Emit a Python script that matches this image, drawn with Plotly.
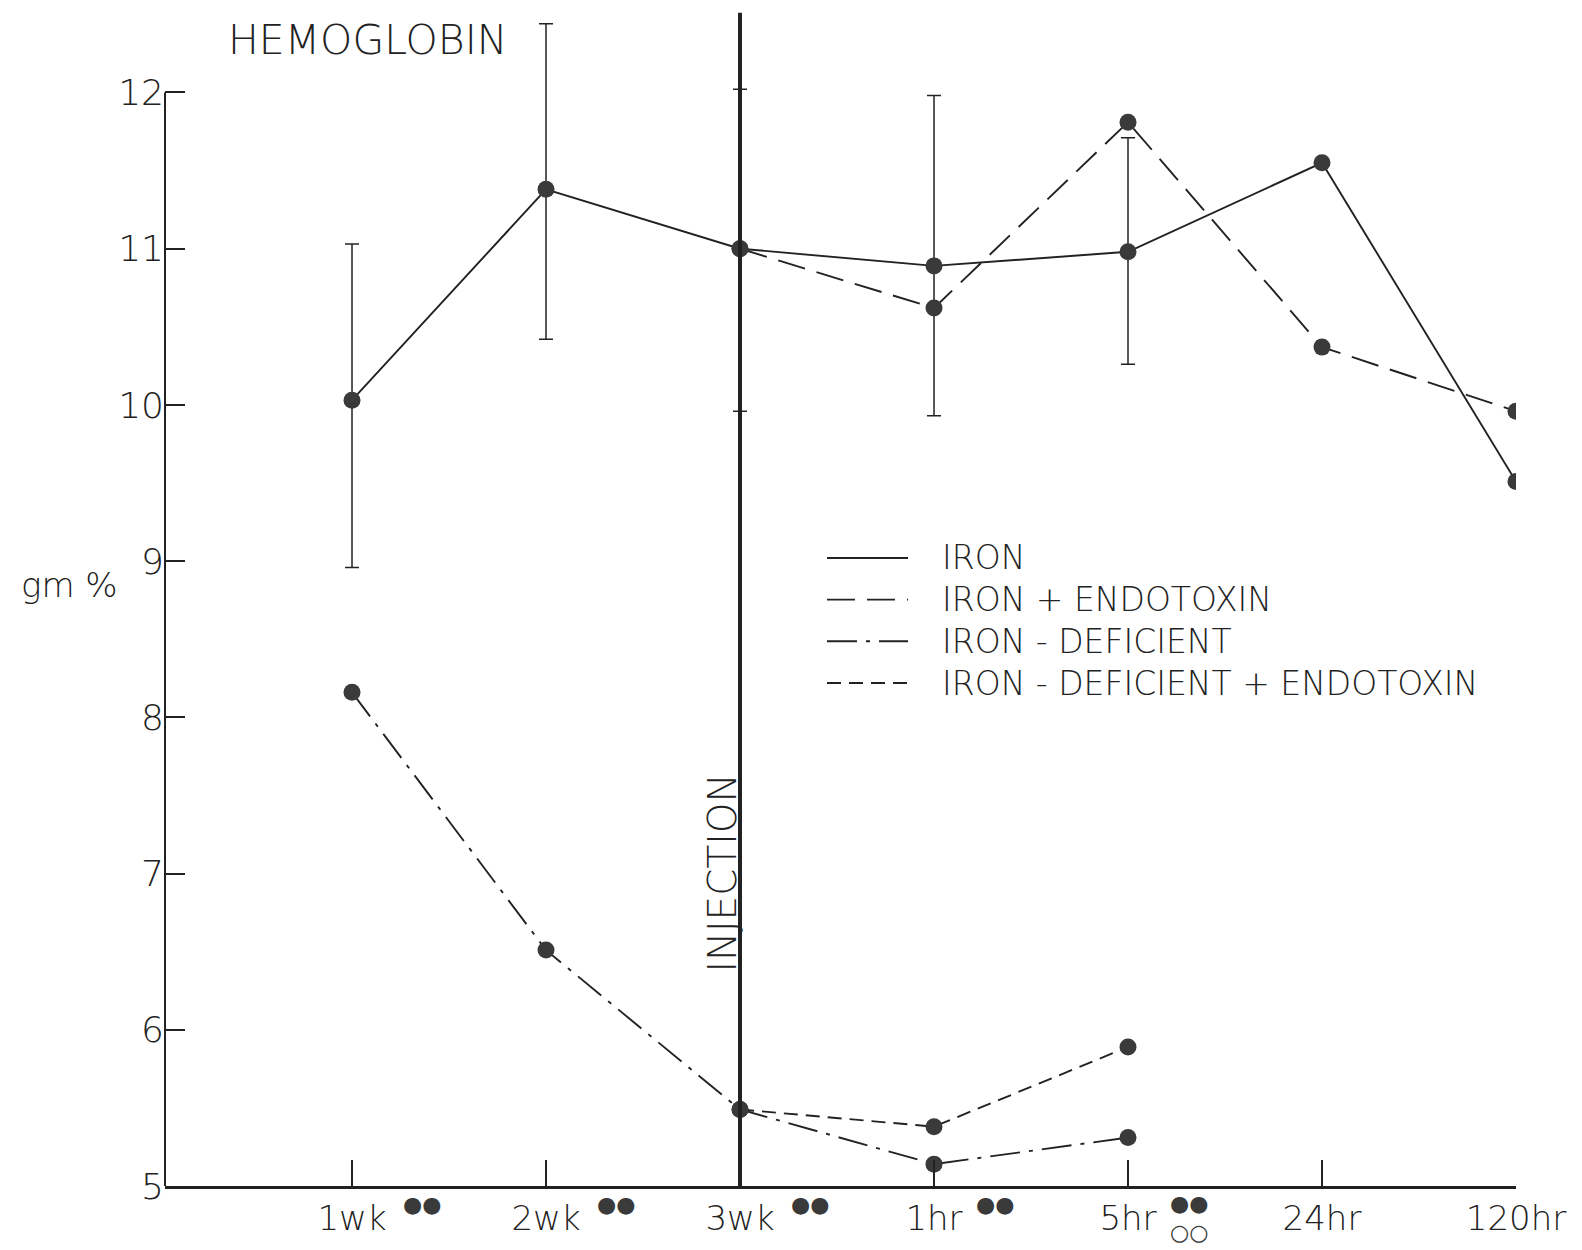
import plotly.graph_objects as go

# ---------------- data ----------------
categories = ["1wk", "2wk", "3wk", "1hr", "5hr", "24hr", "120hr"]
category_marks = ["●●", "●●", "●●", "●●", "●●<br>○○", "", ""]

iron_x = ["1wk", "2wk", "3wk", "1hr", "5hr", "24hr", "120hr"]
iron_y = [10.03, 11.38, 11.00, 10.89, 10.98, 11.55, 9.51]
iron_err_hi = [11.03, 12.44, 12.02, 11.98, 11.71, None, None]
iron_err_lo = [8.96, 10.42, 9.96, 9.93, 10.26, None, None]

iron_endo_x = ["3wk", "1hr", "5hr", "24hr", "120hr"]
iron_endo_y = [11.00, 10.62, 11.81, 10.37, 9.96]

def_x = ["1wk", "2wk", "3wk", "1hr", "5hr"]
def_y = [8.16, 6.51, 5.49, 5.14, 5.31]

def_endo_x = ["3wk", "1hr", "5hr"]
def_endo_y = [5.49, 5.38, 5.89]

series_names = ["IRON", "IRON + ENDOTOXIN", "IRON - DEFICIENT", "IRON - DEFICIENT + ENDOTOXIN"]

y_ticks = [5, 6, 7, 8, 9, 10, 11, 12]
injection_at = "3wk"
injection_top = 12.51

# ---------------- style ----------------
INK = "#222222"
DOT = "#3a3a3a"
FONT = "DejaVu Sans, Liberation Sans, sans-serif"
W = 200  # thin lettering

dashes = ["solid", "28px,12px", "30px,9px,4px,9px", "14px,8px"]
series = list(zip(series_names, [iron_x, iron_endo_x, def_x, def_endo_x],
                  [iron_y, iron_endo_y, def_y, def_endo_y], dashes))

fig = go.Figure()

for name, xs, ys, dash in series:
    fig.add_trace(go.Scatter(
        x=xs, y=ys, mode="lines", name=name, showlegend=False,
        line=dict(color=INK, width=1.9, dash=dash),
        hoverinfo="skip",
    ))

err_plus = [None if h is None else round(h - v, 3) for h, v in zip(iron_err_hi, iron_y)]
err_minus = [None if l is None else round(v - l, 3) for l, v in zip(iron_err_lo, iron_y)]

for i, (name, xs, ys, dash) in enumerate(series):
    kw = {}
    if i == 0:
        kw["error_y"] = dict(type="data", symmetric=False, array=err_plus,
                             arrayminus=err_minus, color=INK, thickness=1.5, width=7)
    fig.add_trace(go.Scatter(
        x=xs, y=ys, mode="markers", name=name, showlegend=False,
        marker=dict(color=DOT, size=17, line=dict(width=0)),
        **kw,
    ))

x_idx = {c: i for i, c in enumerate(categories)}

def tfont(size, color=INK):
    return dict(size=size, color=color, family=FONT, weight=W)

shapes = [
    # left axis line stops at the top tick
    dict(type="line", xref="paper", x0=0, x1=0, yref="y", y0=y_ticks[0], y1=y_ticks[-1],
         line=dict(color=INK, width=2)),
    # injection line
    dict(type="line", xref="x", x0=x_idx[injection_at], x1=x_idx[injection_at],
         yref="y", y0=y_ticks[0], y1=injection_top, line=dict(color=INK, width=4)),
]

annotations = [
    dict(text="HEMOGLOBIN", xref="paper", yref="paper", x=0.045, y=0.9705,
         xanchor="left", yanchor="middle", showarrow=False, font=tfont(41)),
    dict(text="gm %", xref="paper", yref="paper", x=-0.108, y=0.509,
         xanchor="left", yanchor="middle", showarrow=False, font=tfont(34)),
    dict(text="INJECTION", xref="x", yref="y", x=x_idx[injection_at], y=7.0,
         xshift=-17, textangle=-90, xanchor="center", yanchor="middle", showarrow=False,
         font=tfont(39)),
]

# significance marks beside the category labels
for c, m in zip(categories, category_marks):
    if not m:
        continue
    shift = 70 if c.endswith("wk") else 61
    two_line = "<br>" in m
    annotations.append(dict(text=m, xref="x", yref="paper", x=x_idx[c],
                            y=-0.0035 if two_line else -0.016,
                            xshift=shift, xanchor="center",
                            yanchor="top" if two_line else "middle",
                            showarrow=False, borderpad=0,
                            font=dict(size=22, color=DOT, family=FONT)))

# legend drawn as line samples + labels
leg_y = [0.5318, 0.4965, 0.4612, 0.4259]
for name, dash, ly in zip(series_names, dashes, leg_y):
    shapes.append(dict(type="line", xref="paper", yref="paper", x0=0.490, x1=0.550,
                       y0=ly, y1=ly, line=dict(color=INK, width=1.9, dash=dash)))
    annotations.append(dict(text=name, xref="paper", yref="paper", x=0.5746, y=ly,
                            xanchor="left", yanchor="middle", showarrow=False,
                            borderpad=0, font=tfont(33)))

fig.update_layout(
    width=1582, height=1250,
    margin=dict(l=165, r=66, t=5, b=64, autoexpand=False),
    paper_bgcolor="white", plot_bgcolor="white",
    font=dict(family=FONT, size=34, color=INK),
    showlegend=False,
    shapes=shapes,
    annotations=annotations,
    hovermode=False,
)

fig.update_xaxes(
    type="category", categoryorder="array", categoryarray=categories,
    range=[-0.964, len(categories) - 1],
    showline=True, linecolor=INK, linewidth=2.5,
    ticks="inside", ticklen=26, tickwidth=1.5, tickcolor=INK,
    showgrid=False, zeroline=False, automargin=False,
    tickfont=tfont(34),
)
fig.update_yaxes(
    range=[5, 12.56], tickvals=y_ticks, ticktext=[str(v) for v in y_ticks],
    ticks="inside", ticklen=20, tickwidth=2, tickcolor=INK,
    showline=False, showgrid=False, zeroline=False, automargin=False,
    tickfont=tfont(36),
)

fig.write_html("out.html")
